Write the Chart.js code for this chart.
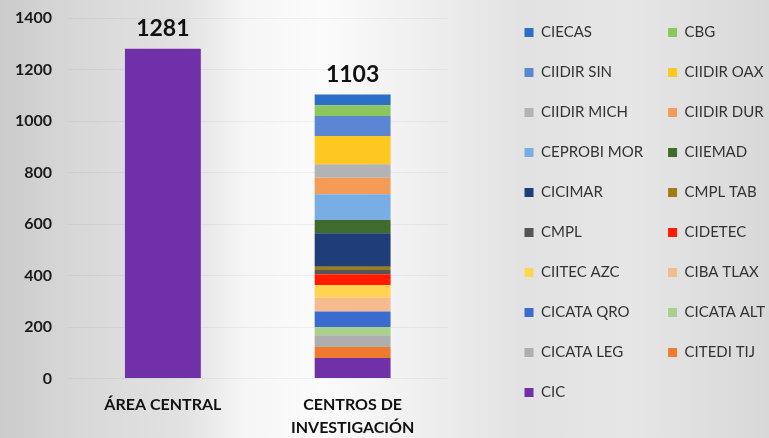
<!DOCTYPE html>
<html>
<head>
<meta charset="utf-8">
<script src="https://cdn.jsdelivr.net/npm/chart.js@4/dist/chart.umd.min.js"></script>
<style>
  html, body { margin:0; padding:0; width:769px; height:438px; overflow:hidden; }
  body {
    background: linear-gradient(90deg, #cbcbcb 0%, #d8d8d8 10%, #e2e2e2 24%, #f6f6f6 32%, #fbfbfb 42%, #eeeeee 56%, #e2e2e2 68%, #e6e6e6 82%, #d8d8d8 100%);
  }
  #wrap { position:absolute; left:0; top:0; width:775px; height:438px; }
</style>
</head>
<body>
<div id="wrap"><canvas id="c"></canvas></div>
<script>
const categories = [['ÁREA CENTRAL'], ['CENTROS DE', 'INVESTIGACIÓN']];
const seriesNames = ['CIECAS','CBG','CIIDIR SIN','CIIDIR OAX','CIIDIR MICH','CIIDIR DUR','CEPROBI MOR','CIIEMAD','CICIMAR','CMPL TAB','CMPL','CIDETEC','CIITEC AZC','CIBA TLAX','CICATA QRO','CICATA ALT','CICATA LEG','CITEDI TIJ','CIC'];
const areaCentral = [0,0,0,0,0,0,0,0,0,0,0,0,0,0,0,0,0,0,1281];
const centrosInvestigacion = [42,42,77,110,52,64,100,52,130,13,16,42,48,55,60,32,46,42,80];
const yTicks = [0,200,400,600,800,1000,1200,1400];

const seriesColors = ['#2b6fc6','#8cc65c','#5a86d4','#ffc820','#b3b3b3','#f59b58','#78aee4','#3f6c2e','#1f3d78','#a07c12','#555555','#ff1c00','#ffd44e','#f5bb8c','#3a6cd0','#a8d28c','#aeaeae','#ee7a30','#7030a8'];

const datasets = seriesNames.map((name, i) => ({
  label: name,
  data: [areaCentral[i], centrosInvestigacion[i]],
  backgroundColor: seriesColors[i],
  borderWidth: 0,
  barPercentage: 0.4,
  categoryPercentage: 1.0,
  xAxisID: 'x',
  yAxisID: 'y',
  stack: 's'
})).reverse();

const nRows = Math.ceil(seriesNames.length / 2);
function legendRank(text) {
  const k = seriesNames.indexOf(text);
  return (k % 2) * nRows + Math.floor(k / 2);
}

const FONT = 'Lato, "Open Sans", sans-serif';

const totalsPlugin = {
  id: 'totals',
  afterDatasetsDraw(chart) {
    const ctx = chart.ctx;
    const xs = chart.scales.x, ys = chart.scales.y;
    ctx.save();
    ctx.font = 'bold 23px ' + FONT;
    ctx.fillStyle = '#111';
    ctx.textAlign = 'center';
    ctx.textBaseline = 'middle';
    categories.forEach((c, j) => {
      let total = 0;
      chart.data.datasets.forEach(ds => { total += ds.data[j] || 0; });
      const x = xs.getPixelForValue(j);
      const y = ys.getPixelForValue(total) - 20;
      ctx.fillText(String(total), x, y);
    });
    ctx.restore();
  }
};

new Chart(document.getElementById('c'), {
  type: 'bar',
  data: { labels: categories, datasets },
  plugins: [totalsPlugin],
  options: {
    responsive: true,
    maintainAspectRatio: false,
    animation: false,
    layout: { padding: { left: 0, top: 0, right: 0, bottom: 0 } },
    plugins: {
      tooltip: { enabled: false },
      legend: {
        position: 'right',
        align: 'start',
        maxWidth: 340,
        labels: {
          sort: (a, b) => legendRank(a.text) - legendRank(b.text),
          boxWidth: 9,
          boxHeight: 9,
          padding: 25,
          color: '#333',
          font: { family: FONT, size: 15 }
        }
      }
    },
    scales: {
      x: {
        stacked: true,
        grid: { display: false, drawTicks: false },
        border: { display: false },
        ticks: {
          color: '#111',
          padding: 15,
          font: { family: FONT, size: 16, weight: 'bold', lineHeight: 1.45 }
        },
        afterFit: (s) => { s.height = 59.5; }
      },
      topSpacer: {
        type: 'category',
        position: 'top',
        display: true,
        grid: { display: false, drawTicks: false },
        border: { display: false },
        ticks: { display: false },
        afterFit: (s) => { s.height = 18; }
      },
      y: {
        stacked: true,
        min: 0,
        max: 1400,
        afterBuildTicks: (s) => { s.ticks = yTicks.map(v => ({ value: v })); },
        grid: { color: 'rgba(0,0,0,0.04)', drawTicks: true, tickLength: 9, tickColor: 'rgba(0,0,0,0)' },
        border: { display: false },
        ticks: {
          color: '#1a1a1a',
          padding: 7,
          callback: (v) => String(v),
          font: { family: FONT, size: 16, weight: 'bold' }
        },
        afterFit: (s) => { s.width = 68; }
      },
      spacer: {
        type: 'linear',
        position: 'right',
        display: true,
        grid: { display: false, drawTicks: false },
        border: { display: false },
        ticks: { display: false },
        afterFit: (s) => { s.width = 52; }
      }
    }
  }
});
</script>
</body>
</html>
